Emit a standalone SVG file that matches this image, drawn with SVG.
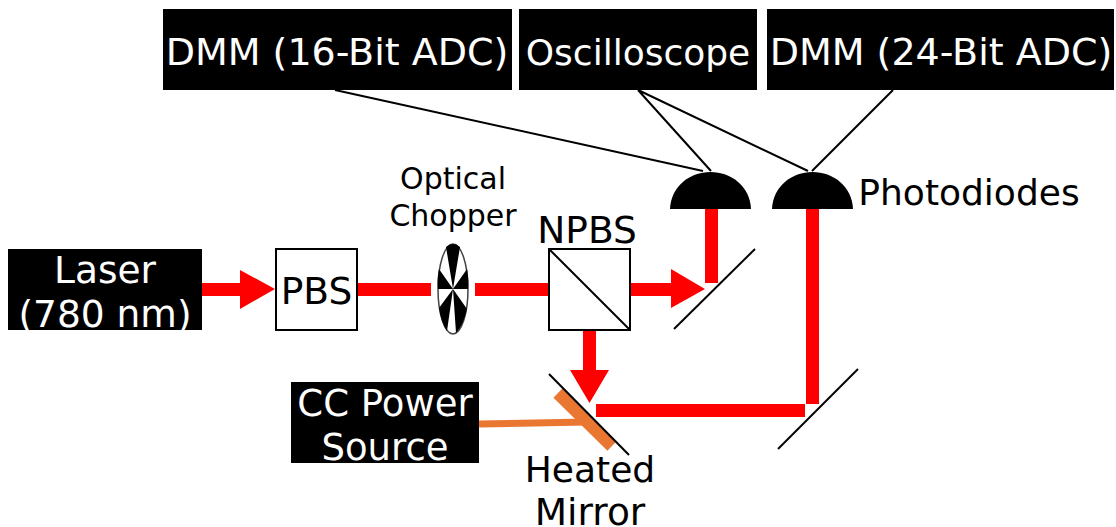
<svg xmlns="http://www.w3.org/2000/svg" width="1116" height="527" viewBox="0 0 1116 527">
<style>
text{font-family:"DejaVu Sans",Verdana,sans-serif;text-anchor:middle;fill:#000}
.w{fill:#fff;font-size:37.500px}
.k{font-size:37.500px}
.s{font-size:30px}
.box{fill:#000}
.cube{fill:#fff;stroke:#000;stroke-width:2}
.thin{stroke:#000;stroke-width:2;fill:none}
.beam{fill:#f00}
</style>
<rect width="1116" height="527" fill="#fff"/>
<g id="connectors">
<path class="thin" d="M335 90L703 171M638 90L711 171M638 90L808 171M893 90L812 171"/>
<path class="beam" d="M202 283H240V270L275 289L240 309V296H202Z"/>
<rect class="beam" x="357" y="283" width="74" height="13"/>
<rect class="beam" x="475" y="283" width="74" height="13"/>
<path class="beam" d="M631 283H671V269L705 289L671 308V296H631Z"/>
<rect class="beam" x="705" y="209" width="13" height="74"/>
<path class="beam" d="M583 330H596V370H609L589.500 403L570 370H583Z"/>
<rect class="beam" x="596" y="404" width="209" height="13"/>
<rect class="beam" x="806" y="209" width="13" height="195"/>
<path d="M479 424L587 422" stroke="#e97732" stroke-width="7" fill="none"/>
</g>
<g id="dmm16"><rect class="box" x="163" y="9" width="349" height="81"/><text class="w" x="337" y="65" style="font-size:38px">DMM (16-Bit ADC)</text></g>
<g id="oscilloscope"><rect class="box" x="519" y="9" width="238" height="81"/><text class="w" x="638" y="65" style="font-size:36px">Oscilloscope</text></g>
<g id="dmm24"><rect class="box" x="767" y="9" width="347" height="81"/><text class="w" x="941" y="65" style="font-size:38px">DMM (24-Bit ADC)</text></g>
<g id="laser"><rect class="box" x="8" y="249" width="194" height="81"/><text class="w" x="105" y="283">Laser</text><text class="w" x="105" y="327">(780 nm)</text></g>
<g id="pbs"><rect class="cube" x="276" y="249" width="81" height="81"/><text class="k" x="316.500" y="304">PBS</text></g>
<g id="chopper">
<text class="s" x="453" y="189">Optical</text><text class="s" x="453" y="226">Chopper</text>
<ellipse cx="453" cy="289" rx="15" ry="45" fill="#fff" stroke="#444" stroke-width="1.500"/>
<path fill="#000" d="M453 289L446 247Q453 241 460 247ZM453 289L467 269Q469 280 468 289ZM453 289L438 289Q437 279 439 269ZM453 289L467 309Q463 326 456 333ZM453 289L447 331Q441 322 439 308Z"/>
</g>
<g id="npbs"><text class="k" x="587" y="243">NPBS</text><rect class="cube" x="549" y="249" width="81" height="81"/><path class="thin" d="M549 249L630 330"/></g>
<g id="mirror1"><path class="thin" d="M674 329L755 249"/></g>
<g id="photodiode1"><path class="box" d="M670 209C671 186 690 172 710.500 172C731 172 750 186 751 209Z"/></g>
<g id="photodiode2"><path class="box" d="M772 209C773 186 792 172 812.500 172C833 172 852 186 853 209Z"/></g>
<text class="k" x="969" y="205" style="font-size:36px">Photodiodes</text>
<g id="mirror3"><path class="thin" d="M778 449L858 369"/></g>
<g id="heated-mirror">
<path d="M558 393L612 446" stroke="#e97732" stroke-width="13" fill="none"/>
<path class="thin" d="M549 374L629 455"/>
<text class="k" x="590" y="482" style="font-size:36px">Heated</text><text class="k" x="590" y="525">Mirror</text>
</g>
<g id="cc-source"><rect class="box" x="291" y="382" width="188" height="81"/><text class="w" x="385" y="416" style="font-size:37px">CC Power</text><text class="w" x="385" y="460" style="font-size:37px">Source</text></g>
</svg>
